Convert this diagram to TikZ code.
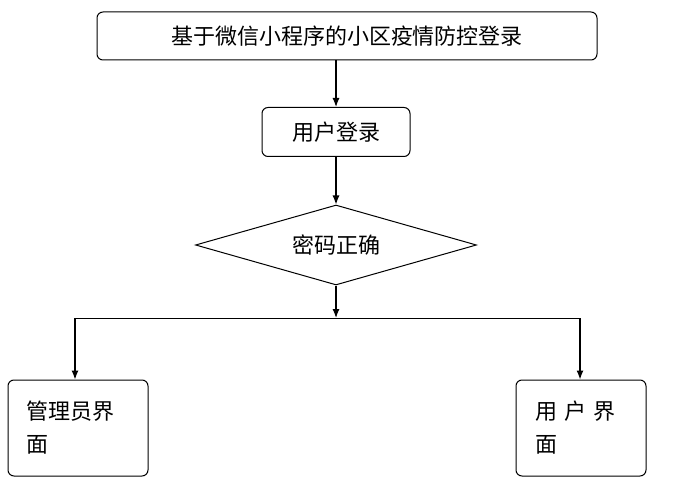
\documentclass[tikz,border=0pt]{standalone}
\usepackage{fontspec}
\newfontfamily\cjk{Noto Sans CJK SC}
\usetikzlibrary{shapes.geometric,positioning,arrows.meta}
\tikzset{
  box/.style={draw, rounded corners=6pt, line width=1pt, font=\cjk\fontsize{22}{33}\selectfont},
  side/.style={box, minimum width=140pt, minimum height=96pt, text width=102pt, align=left},
  arr/.style={-{Latex[length=9pt,width=7pt]}, line width=1.2pt}
}
\begin{document}
\begin{tikzpicture}[x=1pt,y=-1pt]
  \useasboundingbox (0,0) rectangle (678,500);
  \node[box, minimum width=500pt, minimum height=48pt] (title) at (347,36) {基于微信小程序的小区疫情防控登录};
  \node[box, minimum width=148pt, minimum height=49pt] (login) at (336,132) {用户登录};
  \node[draw, diamond, aspect=3.5, line width=1pt, inner sep=0pt, minimum width=281pt, minimum height=80pt,
        font=\cjk\fontsize{22}{26}\selectfont] (check) at (336,245) {密码正确};
  \coordinate (split) at (336,318);
  \coordinate (lt) at (75,318);
  \coordinate (rt) at (580,318);
  \node[side] (admin) at (78,428) {管理员界\\面};
  \node[side, minimum width=130pt, text width=92pt] (user) at (581,428) {用\,\,户\,\,界\\面};
  % connectors
  \draw[arr] (title.south -| login) -- (login);
  \draw[arr] (login) -- (check);
  \draw[arr] (check) -- (split);
  \draw[line width=1pt] (lt) -- (rt);
  \draw[arr] (lt) -- (lt |- admin.north);
  \draw[arr] (rt) -- (rt |- user.north);
\end{tikzpicture}
\end{document}
